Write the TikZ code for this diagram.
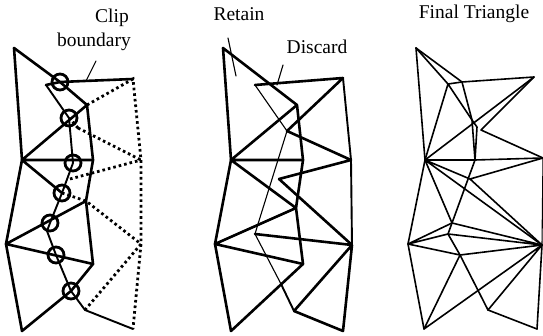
\documentclass[tikz,border=0pt]{standalone}
\usepackage{fontspec}
\setmainfont{Liberation Serif}
\tikzset{
 thick line/.style={line width=2.6pt,line join=round,line cap=round},
 mid line/.style={line width=1.9pt,line join=round,line cap=round},
 thin line/.style={line width=1.1pt,line join=round,line cap=round},
 final line/.style={line width=1.6pt,line join=round,line cap=round},
 dot line/.style={line width=2.8pt,dash pattern=on 2.6pt off 3pt},
 ring/.style={line width=2.8pt},
 label text/.style={font=\fontsize{19.5}{22}\selectfont,inner sep=0pt,anchor=center}
}
\begin{document}
\begin{tikzpicture}[x=1pt,y=-1pt]
\useasboundingbox (0,0) rectangle (543,336);
% ---------- panel 1
\coordinate (a) at (14,48); \coordinate (l1) at (22,160); \coordinate (l2) at (6,244); \coordinate (b) at (22,331);
\coordinate (t) at (133,79); \coordinate (r1) at (141,160); \coordinate (r2) at (141,244); \coordinate (r3) at (133,329);
\coordinate (m0) at (46,85); \coordinate (m1) at (87,105); \coordinate (m2) at (93,160); \coordinate (m3) at (86,201); \coordinate (m4) at (93,264);
\coordinate (c1) at (60,82); \coordinate (c2) at (69,118); \coordinate (c3) at (73,163); \coordinate (c4) at (62,193); \coordinate (c5) at (50,223); \coordinate (c6) at (56,255); \coordinate (c7) at (71,291);
\coordinate (k) at (85,310); \coordinate (d1) at (78,128); \coordinate (d2) at (70,179);
\draw[thick line] (a) -- (l1) -- (l2) -- (b) -- (c7) -- (m4) -- (m3) -- (m2) -- (m1) -- (c1);
\draw[thick line] (a) -- (c1) -- (t);
\draw[thick line] (m0) -- (c1);
\draw[thick line] (l1) -- (m2) (l1) -- (m1) (l1) -- (c4) (l2) -- (m3) (l2) -- (m4);
\draw[mid line] (m0) -- (c2) -- (c3) -- (c4) -- (c5) -- (47,231) -- (c6) -- (c7) -- (k) -- (r3);
\draw[dot line] (m1) -- (t) -- (r1) -- (r2) -- (r3);
\draw[dot line] (d1) -- (r1) (d2) -- (r1) (d1) -- (c2);
\draw[dot line] (c4) -- (m3) -- (r2) -- (k);
\foreach \c in {c1,c2,c3,c4,c5,c6,c7} \draw[ring] (\c) circle (8pt);
\draw[thin line] (96,61) -- (86,81);
\node[label text] (clip) at (112,18) {Clip};
\node[label text] (boundary) at (94,42) {boundary};
% ---------- panel 2
\coordinate (A) at (223,48); \coordinate (L1) at (231,160); \coordinate (L2) at (215,244); \coordinate (B) at (231,331);
\coordinate (T) at (343,78); \coordinate (R1) at (351,160); \coordinate (R2) at (352,245); \coordinate (R3) at (343,331);
\coordinate (M0) at (255,85); \coordinate (M1) at (297,105); \coordinate (M2) at (303,160); \coordinate (M3) at (296,208); \coordinate (M4) at (303,264);
\coordinate (P) at (287,131); \coordinate (Q) at (279,179); \coordinate (U) at (258,224); \coordinate (V) at (255,234); \coordinate (W) at (294,311); \coordinate (X) at (281,284);
\draw[thick line] (A) -- (L1) -- (L2) -- (B) -- (M4) -- (M3) -- (M2) -- (M1) -- (A);
\draw[thick line] (L1) -- (M1) (L1) -- (M2) (L1) -- (M3) (L2) -- (M3) (L2) -- (M4);
\draw[thick line] (M0) -- (T) (T) -- (P) -- (R1) (Q) -- (R1) (Q) -- (R2) (V) -- (R2) (W) -- (R2) -- (R3) -- (W);
\draw[mid line] (T) -- (R1) (R1) -- (R2);
\draw[thin line] (M0) -- (P) -- (U) -- (V) -- (X);
\draw[mid line] (X) -- (W);
\draw[thin line] (228,38) -- (236,76) (283,65) -- (277,85);
\node[label text] (retain) at (239,14) {Retain};
\node[label text] (discard) at (317,47) {Discard};
% ---------- panel 3
\coordinate (fA) at (416,48); \coordinate (fL1) at (425,160); \coordinate (fL2) at (408,244); \coordinate (fB) at (424,329);
\coordinate (fT) at (534,77); \coordinate (fR1) at (543,158); \coordinate (fR2) at (542,245); \coordinate (fR3) at (537,329);
\coordinate (fa) at (448,84); \coordinate (fb) at (462,82); \coordinate (fc) at (472,120); \coordinate (fd) at (477,127); \coordinate (fe) at (475,160); \coordinate (ff) at (481,130);
\coordinate (fg) at (470,179); \coordinate (fh) at (452,223); \coordinate (fi) at (448,234); \coordinate (fj) at (460,255); \coordinate (fk) at (488,310);
\draw[final line] (fA) -- (fL1) -- (fL2) -- (fB);
\draw[final line] (fA) -- (fb) -- (fT) -- (ff) -- (fR1);
\draw[final line] (fA) -- (fa) -- (fb) (fa) -- (fL1) (fa) -- (fc) -- (fd) -- (fe) -- (fh) -- (fi) -- (fj) -- (fk) -- (fR3);
\draw[final line] (fb) -- (fc) -- (fe);
\draw[final line] (fL1) -- (fT) (fL1) -- (fe) -- (fR1);
\draw[final line] (fL1) -- (fh) (fL1) -- (fg) (fL1) -- (fR2);
\draw[final line] (fg) -- (fR1) (fg) -- (fR2);
\draw[final line] (fL2) -- (fh) -- (fR2) (fL2) -- (fi) -- (fR2) (fL2) -- (fj) -- (fR2);
\draw[final line] (fj) -- (fB) -- (fR2) (fk) -- (fR2);
\draw[final line] (fR3) -- (fR2);
\draw[thin line] (fR1) -- (fR2);
\node[label text] (final) at (474,14) {Final Triangle};
\end{tikzpicture}
\end{document}
